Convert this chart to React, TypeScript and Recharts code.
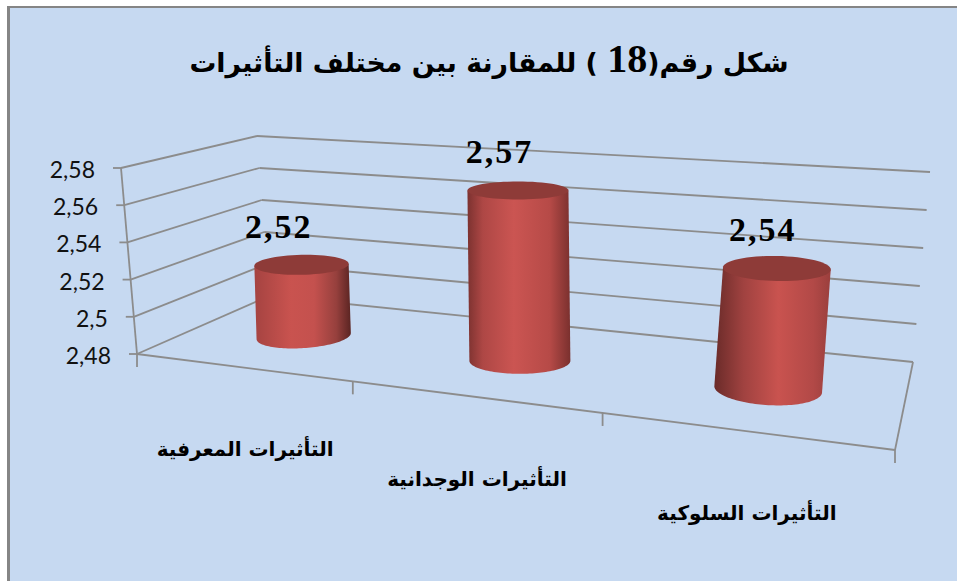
import React from "react";
import { BarChart, Bar, XAxis, YAxis, CartesianGrid, LabelList } from "recharts";

const categories = ["التأثيرات المعرفية", "التأثيرات الوجدانية", "التأثيرات السلوكية"];
const values = [2.52, 2.57, 2.54];
const yTicks = [2.48, 2.5, 2.52, 2.54, 2.56, 2.58];
const titleBefore = "شكل رقم(";
const titleNumber = "18";
const titleAfter = " ) للمقارنة بين مختلف التأثيرات";

const rows = categories.map((name, i) => ({ name, value: values[i] }));

const W = 957;
const H = 581;
const M = { top: 100, right: 100, bottom: 100, left: 100 };
const PW = W - M.left - M.right;
const PH = H - M.top - M.bottom;

type P = [number, number];
function homography(p0: P, p1: P, p2: P, p3: P) {
  const dx1 = p1[0] - p2[0], dx2 = p3[0] - p2[0], sx = p0[0] - p1[0] + p2[0] - p3[0];
  const dy1 = p1[1] - p2[1], dy2 = p3[1] - p2[1], sy = p0[1] - p1[1] + p2[1] - p3[1];
  const det = dx1 * dy2 - dx2 * dy1;
  const g = (sx * dy2 - dx2 * sy) / det;
  const h = (dx1 * sy - sx * dy1) / det;
  const a = p1[0] - p0[0] + g * p1[0], b = p3[0] - p0[0] + h * p3[0], c = p0[0];
  const d = p1[1] - p0[1] + g * p1[1], e = p3[1] - p0[1] + h * p3[1], f = p0[1];
  return (u: number, v: number): P => {
    const w = g * u + h * v + 1;
    return [(a * u + b * v + c) / w, (d * u + e * v + f) / w];
  };
}
// box of the 3D scene: front-left, front-right, back-right, back-left
const floor = homography([137, 354], [895, 450], [913, 362], [269, 296]);
const ceil = homography([121, 168], [918, 225], [930, 172], [257, 136]);
const project = (u: number, d: number, h: number): P => {
  const a = floor(u, d), b = ceil(u, d);
  return [a[0] + (b[0] - a[0]) * h, a[1] + (b[1] - a[1]) * h];
};
const toU = (x: number) => (x - M.left) / PW;
const toH = (y: number) => (M.top + PH - y) / PH;

const GRID = "#8C8C8C";
const seg = (a: P, b: P, key?: string) => (
  <line key={key} x1={a[0]} y1={a[1]} x2={b[0]} y2={b[1]} stroke={GRID} strokeWidth={1.8} />
);

function GridLine(props: any) {
  const h = toH(props.y1);
  const isFloor = Math.abs(h) < 1e-6;
  const frontLeft = project(0, 0, h);
  return (
    <g key={props.key}>
      {seg(frontLeft, project(0, 1, h))}
      {seg(project(0, 1, h), project(1, 1, h))}
      {seg(frontLeft, [frontLeft[0] - 8, frontLeft[1]])}
      {isFloor && (
        <g>
          {seg(project(0, 0, 0), project(1, 0, 0))}
          {seg(project(1, 0, 0), project(1, 1, 0))}
          {seg(project(0, 0, 0), project(0, 0, 1))}
          {categories.map((_, i) => i).concat(categories.length).map((i) => {
            const p = project(i / categories.length, 0, 0);
            return seg(p, [p[0], p[1] + 13], "t" + i);
          })}
        </g>
      )}
    </g>
  );
}

function YTick(props: any) {
  const h = toH(props.y);
  const p = project(0, 0, h);
  const label = String(props.payload.value).replace(".", ",");
  return (
    <text x={p[0] - 26} y={p[1] + 10} textAnchor="end" fontFamily="Lato" fontSize={23} fill="#111">
      {label}
    </text>
  );
}

function XTick(props: any) {
  const p = project(toU(props.x), 0, 0);
  return (
    <text x={p[0] + 4} y={p[1] + 89} textAnchor="middle" direction="rtl" fontFamily="'DejaVu Sans'" fontWeight="bold" fontSize={20} fill="#000">
      {props.payload.value}
    </text>
  );
}

const sideStops = [
  [["0%", "#A54341"], ["38%", "#C9534F"], ["62%", "#C4514E"], ["85%", "#96403D"], ["100%", "#5A2422"]],
  [["0%", "#7C3230"], ["15%", "#AE4745"], ["45%", "#CB5552"], ["80%", "#B64A47"], ["100%", "#7A302E"]],
  [["0%", "#6A2B29"], ["25%", "#A04240"], ["55%", "#C9534F"], ["85%", "#B24947"], ["100%", "#9A3F3D"]],
];
const DEPTH = 0.46;
const topRadius = [10, 9, 12.5];
const bottomRadius = [12, 13, 16];

function ellipse(uc: number, width: number, h: number, b: number, tilt: number, from: number, to: number): P[] {
  const c = project(uc, DEPTH, h);
  const cx = c[0] + 2.5 + 10 * h, cy = c[1];
  const ax = (width * (0.9 + 0.2 * uc)) / 2;
  const ay = (uc - 0.5) * tilt;
  const pts: P[] = [];
  for (let i = 0; i <= 64; i++) {
    const t = from + ((to - from) * i) / 64;
    pts.push([cx + ax * Math.cos(t), cy + ay * Math.cos(t) - b * Math.sin(t)]);
  }
  return pts;
}
const toPath = (pts: P[]) =>
  "M" + pts.map((p) => p[0].toFixed(2) + "," + p[1].toFixed(2)).join("L") + "Z";

function Cylinder(props: any) {
  const { x, y, width, index } = props;
  const uc = toU(x + width / 2);
  const h = toH(y);
  const lower = ellipse(uc, width, 0, bottomRadius[index], 9, Math.PI, 2 * Math.PI);
  const top = ellipse(uc, width, h, topRadius[index], 3, 0, 2 * Math.PI);
  const id = "side" + index;
  return (
    <g>
      <defs>
        <linearGradient id={id} x1="0" x2="1" y1="0" y2="0">
          {sideStops[index].map(([o, c]) => <stop key={o} offset={o} stopColor={c} />)}
        </linearGradient>
      </defs>
      <path d={toPath([top[32], ...lower, top[0]])} fill={`url(#${id})`} />
      <path d={toPath(top)} fill="#8E3B38" />
    </g>
  );
}

function BarValue(props: any) {
  const { x, y, width, value } = props;
  const u = toU(x + width / 2);
  const h = toH(y);
  const p = project(u, DEPTH, h);
  return (
    <text x={p[0] + 2.5 + 10 * h - 25 + 13 * u} y={p[1] - 27} textAnchor="middle" fontFamily="'Liberation Serif'" fontWeight="bold" fontSize={34} letterSpacing={2} fill="#000">
      {String(value).replace(".", ",")}
    </text>
  );
}

export default function App() {
  return (
    <div style={{ position: "absolute", left: 0, top: 0, width: W, height: H, background: "#fff", overflow: "hidden" }}>
      <div style={{ position: "absolute", left: 7, top: 6, width: W - 7, height: H - 6, background: "#C6D9F1", borderLeft: "3px solid #858585", borderTop: "2px solid #858585", boxSizing: "border-box" }} />
      <div style={{ position: "absolute", left: 0, top: 0 }}>
        <BarChart width={W} height={H} data={rows} margin={{ top: M.top, right: M.right, bottom: M.bottom - 1, left: M.left - 1 }} barCategoryGap="30%" style={{ background: "transparent" }}>
          <CartesianGrid horizontal={GridLine as any} vertical={false} />
          <XAxis dataKey="name" height={1} axisLine={false} tickLine={false} interval={0} tick={XTick as any} />
          <YAxis width={1} domain={[2.48, 2.58]} ticks={yTicks} interval={0} axisLine={false} tickLine={false} tick={YTick as any} />
          <Bar dataKey="value" shape={Cylinder as any} isAnimationActive={false}>
            <LabelList dataKey="value" content={BarValue as any} />
          </Bar>
          <text x={489} y={72} textAnchor="middle" direction="rtl" fontFamily="'DejaVu Sans','Liberation Serif'" fontWeight="bold" fontSize={26.8} fill="#000">
            {titleBefore}
            <tspan fontFamily="'Liberation Serif'" fontWeight="bold" fontSize={40}>{titleNumber}</tspan>
            {titleAfter}
          </text>
        </BarChart>
      </div>
    </div>
  );
}
